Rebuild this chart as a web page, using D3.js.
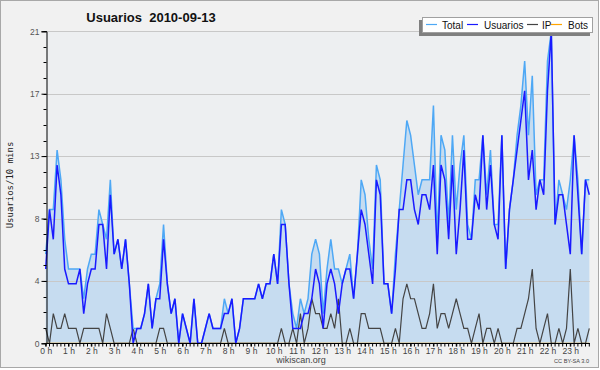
<!DOCTYPE html>
<html><head><meta charset="utf-8">
<script src="https://cdn.jsdelivr.net/npm/d3@7"></script>
<style>html,body{margin:0;padding:0;background:#fff;}svg{display:block;}</style>
</head><body>
<svg id="c" width="600" height="370"></svg>
<script>
const title = "Usuarios  2010-09-13";
const yLabel = "Usuarios/10 mins";
const hourLabels = ["0 h","1 h","2 h","3 h","4 h","5 h","6 h","7 h","8 h","9 h","10 h","11 h","12 h","13 h","14 h","15 h","16 h","17 h","18 h","19 h","20 h","21 h","22 h","23 h"];
const yTickLabels = ["0","4","8","13","17","21"];
const seriesNames = ["Total","Usuarios","IP","Bots"];
const total = [6,9,9,13,11,7,5,5,5,5,3,5,6,6,9,8,7,11,6,7,5,7,4,1,1,1,2,4,1,3,4,8,4,2,3,0,2,1,0,3,0,0,1,2,1,1,1,3,2,3,0,1,3,3,3,3,4,3,4,4,6,4,9,8,4,2,1,3,2,3,6,7,6,2,5,7,5,5,4,5,6,3,6,11,10,7,5,12,11,4,4,2,6,9,12,15,14,12,10,11,11,11,16,7,14,13,8,14,9,12,14,8,7,11,11,14,10,13,8,8,14,5,9,11,14,16,19,14,18,10,11,11,19,21,8,11,10,9,11,14,11,6,11,11];
const usuarios = [5,9,7,12,10,5,4,4,4,5,2,4,5,5,8,8,5,10,6,7,5,7,4,0,1,1,2,4,1,3,3,7,4,2,3,0,2,1,0,3,0,0,1,2,1,1,1,2,2,3,0,1,3,3,3,3,4,3,4,4,6,4,8,8,4,1,1,1,2,2,3,5,4,1,4,5,4,2,4,5,5,3,6,9,8,6,4,11,10,4,4,2,5,9,9,11,11,9,8,10,10,9,12,6,12,11,7,12,6,9,13,7,7,10,9,14,9,12,8,7,14,5,9,11,13,15,17,11,13,9,11,10,17,21,8,10,10,8,6,14,10,6,11,10];
const ip = [1,0,2,1,1,2,1,1,1,0,1,1,1,1,1,0,2,1,0,0,0,0,0,1,0,0,0,0,0,0,1,1,0,0,0,0,0,0,0,0,0,0,0,0,0,0,0,1,0,0,0,0,0,0,0,0,0,0,0,0,0,0,1,0,0,1,0,2,0,1,3,2,2,1,1,2,1,3,0,0,1,0,0,2,2,1,1,1,1,0,0,0,1,0,3,4,3,3,2,1,1,2,4,1,2,2,1,2,3,2,1,1,0,1,2,0,1,1,0,1,0,0,0,0,1,1,2,3,5,1,0,1,2,0,0,1,0,1,5,0,1,0,0,1];
const bots = total.map(() => 0);

const svg = d3.select("#c");
const W = 600, H = 370;
const SANS = "Liberation Sans, Arial, sans-serif";
svg.append("rect").attr("x",0).attr("y",0).attr("width",W).attr("height",H).attr("fill","#ffffff");
svg.append("rect").attr("x",0.5).attr("y",0.5).attr("width",598).attr("height",367).attr("fill","#f1f1f1").attr("stroke","#a8a8a8");

const x = d3.scaleLinear().domain([0, total.length-1]).range([45.7, 589.3]);
const y = d3.scaleLinear().domain([0, 21]).range([343.3, 31.3]);

svg.append("rect").attr("x",46).attr("y",31).attr("width",544).attr("height",313).attr("fill","#edeff1");

const idx = d3.range(total.length);
svg.append("path").datum(idx)
  .attr("d", d3.area().x(i=>x(i)).y0(y(0)).y1(i=>y(total[i])))
  .attr("fill","#c6dcf0");

const majorVals = d3.range(0, 6).map(k => k*4.2);
svg.append("g").selectAll("line").data(majorVals.filter(v=>v>0)).join("line")
  .attr("x1",46).attr("x2",590).attr("y1",d=>Math.round(y(d))+0.5).attr("y2",d=>Math.round(y(d))+0.5)
  .attr("stroke","#c8c8c8").attr("stroke-width",1);

const line = arr => d3.line().x(i=>x(i)).y(i=>y(arr[i]))(idx);
svg.append("path").attr("d", line(bots)).attr("fill","none").attr("stroke","#ffa500").attr("stroke-width",1.2);
svg.append("path").attr("d", line(ip)).attr("fill","none").attr("stroke","#444444").attr("stroke-width",1.2);
svg.append("path").attr("d", line(total)).attr("fill","none").attr("stroke","#4ea8f5").attr("stroke-width",1.5);
svg.append("path").attr("d", line(usuarios)).attr("fill","none").attr("stroke","#1a1aff").attr("stroke-width",1.5);

const yAxis = d3.axisLeft(y).tickValues(majorVals).tickFormat((d,i)=>yTickLabels[i]).tickSize(5).tickPadding(2);
const gy = svg.append("g").attr("transform","translate(46.5,0)").call(yAxis);
gy.select(".domain").attr("stroke","#000");
gy.selectAll(".tick line").attr("stroke","#000");
gy.selectAll("text").attr("font-family",SANS).attr("font-size",8.5).attr("fill","#555");
svg.append("g").selectAll("line").data(d3.range(0,21).map(k=>k*1.05)).join("line")
  .attr("x1",43.5).attr("x2",46.5).attr("y1",d=>Math.round(y(d))+0.5).attr("y2",d=>Math.round(y(d))+0.5)
  .attr("stroke","#000");

const xAxis = d3.axisBottom(x).tickValues(d3.range(0,24).map(h=>h*6)).tickFormat((d,i)=>hourLabels[i]).tickSize(3).tickPadding(1);
const gx = svg.append("g").attr("transform","translate(0,343.5)").call(xAxis);
gx.select(".domain").attr("stroke","#000").attr("d","M45.7,0H590");
gx.selectAll(".tick line").attr("stroke","#000");
gx.selectAll("text").attr("font-family",SANS).attr("font-size",8.5).attr("fill","#444");
svg.append("g").selectAll("line").data(d3.range(0,144)).join("line")
  .attr("x1",d=>x(d)).attr("x2",d=>x(d)).attr("y1",343.5).attr("y2",346.5).attr("stroke","#000");

svg.append("text").attr("x",151).attr("y",22).attr("text-anchor","middle")
  .attr("font-family",SANS).attr("font-weight","bold").attr("font-size",13).attr("fill","#111")
  .attr("xml:space","preserve").style("white-space","pre").text(title);

svg.append("text").attr("transform","translate(13,185) rotate(-90)").attr("text-anchor","middle")
  .attr("font-family","DejaVu Sans Mono, monospace").attr("font-size",9).attr("fill","#222").text(yLabel);

svg.append("text").attr("x",301).attr("y",363).attr("text-anchor","middle")
  .attr("font-family",SANS).attr("font-size",9).attr("fill","#444").text("wikiscan.org");
svg.append("text").attr("x",589).attr("y",363).attr("text-anchor","end")
  .attr("font-family",SANS).attr("font-size",5.6).attr("fill","#444").text("CC BY-SA 3.0");

const lg = svg.append("g");
lg.append("rect").attr("x",419).attr("y",20).attr("width",171).attr("height",16).attr("fill","#808080");
lg.append("rect").attr("x",422.5).attr("y",17.5).attr("width",170).attr("height",15).attr("fill","#ffffff").attr("stroke","#a0a0a0");
const legendColors = ["#4ea8f5","#1a1aff","#444444","#ffa500"];
const legendX = [426, 467, 527, 551];
const legendTextX = [442, 484, 542, 568];
seriesNames.forEach((n,i)=>{
  lg.append("line").attr("x1",legendX[i]).attr("x2",legendX[i]+11).attr("y1",24.5).attr("y2",24.5).attr("stroke",legendColors[i]).attr("stroke-width",1.2);
  lg.append("text").attr("x",legendTextX[i]).attr("y",28.5).attr("font-family",SANS).attr("font-size",10).attr("fill","#111").text(n);
});
</script>
</body></html>
